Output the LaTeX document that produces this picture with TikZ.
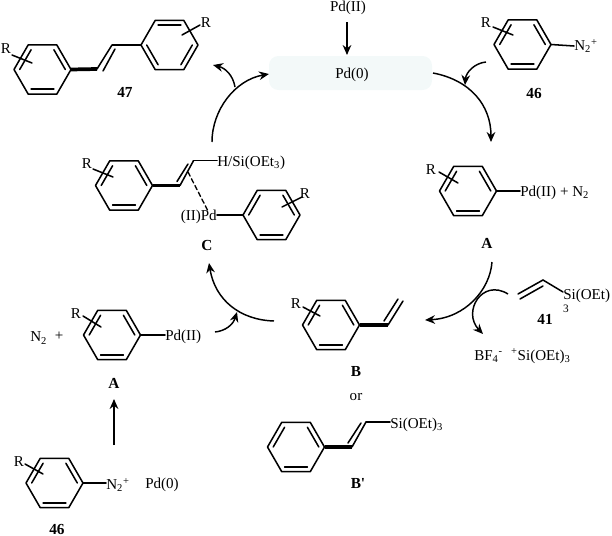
\documentclass[tikz,border=0pt]{standalone}
\usepackage{fontspec}
\setmainfont{Liberation Serif}
\usetikzlibrary{arrows.meta,calc}
\definecolor{boxfill}{HTML}{F3F9F9}
\tikzset{
  bond/.style={line width=1.15pt,line cap=round,line join=round},
  wide/.style={line width=2.8pt,line cap=butt},
  harrow/.style={line width=1.1pt,-{Stealth[length=7.5pt,width=6.5pt]}},
  lab/.style={inner sep=0pt,font=\fontsize{11.3}{13}\selectfont},
  tag/.style={inner sep=0pt,font=\fontsize{11.5}{13}\selectfont\bfseries}
}
% #1 name, #2 cx, #3 cy, #4 list of inner double bonds as vertex pairs
\newcommand{\benz}[4]{%
  \coordinate (#1-c) at (#2,#3);
  \coordinate (#1-1) at ($(#2,#3)+(28.5,0)$);
  \coordinate (#1-2) at ($(#2,#3)+(14.25,-24.7)$);
  \coordinate (#1-3) at ($(#2,#3)+(-14.25,-24.7)$);
  \coordinate (#1-4) at ($(#2,#3)+(-28.5,0)$);
  \coordinate (#1-5) at ($(#2,#3)+(-14.25,24.7)$);
  \coordinate (#1-6) at ($(#2,#3)+(14.25,24.7)$);
  \draw[bond] (#1-1)--(#1-2)--(#1-3)--(#1-4)--(#1-5)--(#1-6)--cycle;
  \foreach \pa/\pb in {#4}{\draw[bond] ($(#1-c)!.8!(#1-\pa)$)--($(#1-c)!.8!(#1-\pb)$);}
}
\begin{document}
\begin{tikzpicture}[x=0.75pt,y=-0.75pt]
\useasboundingbox (0,0) rectangle (612,536);
% catalyst box
\node[draw=none,fill=boxfill,rounded corners=7pt,minimum width=122.25pt,minimum height=25.5pt,inner sep=0pt] (box) at (350.5,73) {};
\node[lab] (pd0) at (352,75) {Pd(0)};
\node[lab] (pd2) at (348,8) {Pd(II)};
\coordinate (pdA) at (347,22); \coordinate (pdB) at (347,55);
\draw[harrow] (pdA)--(pdB);
% 47
\benz{ra}{42.5}{69.5}{1/2,3/4,5/6}
\benz{rb}{169.5}{45}{2/3,4/5,6/1}
\coordinate (a1) at (97,69); \coordinate (a2) at (112,45);
\coordinate (a3) at (103,71); \coordinate (a4) at (115,49);
\draw[bond,wide] (ra-1)--(a1);
\draw[bond] (a1)--(a2)--(rb-4); \draw[bond] (a3)--(a4);
\node[lab] (ra-R) at (6,49) {R}; \node[lab] (rb-R) at (206,23) {R};
\coordinate (s1) at (12,55); \coordinate (s2) at (32,63); \draw[bond] (s1)--(s2);
\coordinate (s3) at (182,35); \coordinate (s4) at (200,25); \draw[bond] (s3)--(s4);
\node[tag] (t47) at (125,92) {47};
% 46 top
\benz{rc}{522.5}{44.5}{1/2,3/4,5/6}
\node[lab] (rc-R) at (486,23) {R};
\coordinate (s5) at (493,27); \coordinate (s6) at (513,35); \draw[bond] (s5)--(s6);
\node[lab,anchor=west] (nt) at (574,46) {N\textsubscript{2}\textsuperscript{+}};
\draw[bond] (rc-1)--(nt.west);
\node[tag] (t46a) at (534,93) {46};
% A right
\benz{rd}{468}{191}{1/2,3/4,5/6}
\node[lab] (rd-R) at (431,170) {R};
\coordinate (s7) at (439,172); \coordinate (s8) at (458,183); \draw[bond] (s7)--(s8);
\node[lab,anchor=west] (pa) at (520,193) {Pd(II) + N\textsubscript{2}};
\draw[bond] (rd-1)--(pa.west |- rd-1);
\node[tag] (tAr) at (487,243) {A};
% C
\benz{re}{124}{185.5}{1/2,3/4,5/6}
\benz{rf}{271.5}{215}{1/2,3/4,5/6}
\coordinate (c1) at (180,185.5); \coordinate (c2) at (193.5,160.7);
\coordinate (c3) at (177,181.5); \coordinate (c4) at (188,164);
\draw[bond,wide] (re-1)--(c1);
\draw[bond] (c1)--(c2); \draw[bond] (c3)--(c4);
\node[lab,anchor=west] (hs) at (217,163) {H/Si(OEt\textsubscript{3})};
\draw[bond] (c2)--(hs.west |- c2);
\node[lab,anchor=east] (pc) at (217,217) {(II)Pd};
\draw[bond] (pc.east |- rf-4)--(rf-4);
\coordinate (d1) at (188,172); \coordinate (d2) at (208,211);
\draw[bond,dashed,dash pattern=on 3.5pt off 2.2pt,line width=1pt] (d1)--(d2);
\node[lab] (re-R) at (87,164) {R}; \node[lab] (rf-R) at (305,194) {R};
\coordinate (s9) at (93,169); \coordinate (s10) at (113,177); \draw[bond] (s9)--(s10);
\coordinate (s11) at (282,207); \coordinate (s12) at (302,197); \draw[bond] (s11)--(s12);
\node[tag] (tC) at (207,245) {C};
% A left
\benz{rg}{112}{335}{1/2,3/4,5/6}
\node[lab] (rg-R) at (76,314) {R};
\coordinate (s13) at (83,316); \coordinate (s14) at (101,327); \draw[bond] (s13)--(s14);
\node[lab,anchor=west] (pl) at (165,337) {Pd(II)};
\draw[bond] (rg-1)--(pl.west |- rg-1);
\node[lab,anchor=west] (nl) at (30,338) {N\textsubscript{2}};
\node[lab] (pl2) at (59,336) {+};
\node[tag] (tAl) at (114,383) {A};
% 46 bottom
\benz{rh}{54.5}{483}{1/2,3/4,5/6}
\node[lab] (rh-R) at (19,462) {R};
\coordinate (s15) at (25,464); \coordinate (s16) at (43,474); \draw[bond] (s15)--(s16);
\node[lab,anchor=west] (nb) at (106,485) {N\textsubscript{2}\textsuperscript{+}};
\draw[bond] (rh-1)--(nb.west |- rh-1);
\node[lab] (pb) at (162,485) {Pd(0)};
\node[tag] (t46b) at (57,529) {46};
\coordinate (u1) at (114,445); \coordinate (u2) at (114,399);
\draw[harrow] (u1)--(u2);
% B
\benz{ri}{331}{325}{1/2,3/4,5/6}
\node[lab] (ri-R) at (296,304) {R};
\coordinate (s17) at (303,307); \coordinate (s18) at (320,316); \draw[bond] (s17)--(s18);
\coordinate (b1) at (388,325); \coordinate (b2) at (403,301);
\coordinate (b3) at (384,321); \coordinate (b4) at (398,299);
\draw[bond,wide] (ri-1)--(b1);
\draw[bond] (b1)--(b2); \draw[bond] (b3)--(b4);
\node[tag] (tB) at (356,371) {B};
\node[lab] (orr) at (356,397) {or};
% B'
\benz{rj}{296}{447}{1/2,3/4,5/6}
\coordinate (e1) at (352,447); \coordinate (e2) at (366,422);
\coordinate (e3) at (348,443); \coordinate (e4) at (361,423);
\draw[bond,wide] (rj-1)--(e1);
\draw[bond] (e1)--(e2); \draw[bond] (e3)--(e4);
\node[lab,anchor=west] (sib) at (390,425) {Si(OEt)\textsubscript{3}};
\draw[bond] (e2)--(sib.west |- e2);
\node[tag] (tBp) at (358,483) {B\textquotesingle};
% 41
\coordinate (f1) at (518,294); \coordinate (f2) at (543,280);
\coordinate (f3) at (520,299); \coordinate (f4) at (543,286);
\draw[bond] (f1)--(f2); \draw[bond] (f3)--(f4);
\node[lab,anchor=west] (si) at (563,296) {Si(OEt)};
\node[lab] (si3) at (566,309) {\fontsize{8.5}{10}\selectfont 3};
\draw[bond] (f2)--(si.west |- 0,292);
\node[tag] (t41) at (545,319) {41};
\node[lab,anchor=west] (bf) at (474,356) {BF\textsubscript{4}\textsuperscript{-}\hspace{0.55em}\textsuperscript{+}Si(OEt)\textsubscript{3}};
% cycle arrows
\coordinate (m1) at (433,73); \coordinate (m2) at (491,142);
\draw[harrow] (m1) .. controls (470,80) and (491,105) .. (m2);
\coordinate (m3) at (486,62); \coordinate (m4) at (465,85);
\draw[harrow] (m3) .. controls (475,63) and (466,72) .. (m4);
\coordinate (m5) at (492,262); \coordinate (m6) at (425,320);
\draw[harrow] (m5) .. controls (490,290) and (465,318) .. (m6);
\coordinate (m7) at (508,294); \coordinate (m8) at (483,334);
\draw[harrow] (m7) .. controls (482,278) and (462,312) .. (m8);
\coordinate (m9) at (274,321); \coordinate (m10) at (209,263);
\draw[harrow] (m9) .. controls (240,320) and (215,300) .. (m10);
\coordinate (m11) at (215,332); \coordinate (m12) at (237,312);
\draw[harrow] (m11) .. controls (225,331) and (233,325) .. (m12);
\coordinate (m13) at (212,142); \coordinate (m14) at (269,74);
\draw[harrow] (m13) .. controls (212,110) and (235,80) .. (m14);
\coordinate (m15) at (235,87); \coordinate (m16) at (213,65);
\draw[harrow] (m15) .. controls (233,75) and (225,68) .. (m16);
\end{tikzpicture}
\end{document}
